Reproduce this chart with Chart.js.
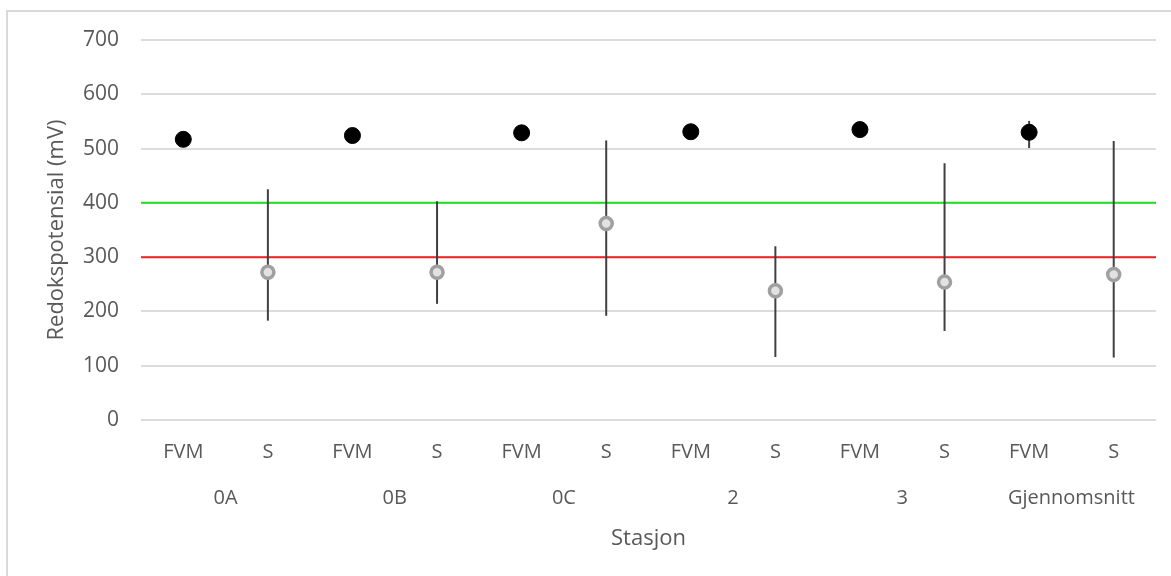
<!DOCTYPE html>
<html>
<head>
<meta charset="utf-8">
<script src="https://cdn.jsdelivr.net/npm/chart.js@4/dist/chart.umd.min.js"></script>
<style>
  html, body { margin: 0; padding: 0; background: #fff; overflow: hidden; }
  #frame { position: absolute; left: 6px; top: 10px; width: 1180px; height: 600px; border: 2px solid #d9d9d9; box-sizing: border-box; }
  #wrap { position: absolute; left: 0; top: 0; width: 1171px; height: 576px; }
</style>
</head>
<body>
<div id="frame"></div>
<div id="wrap"><canvas id="myChart"></canvas></div>
<script>
let categories = ['FVM', 'S', 'FVM', 'S', 'FVM', 'S', 'FVM', 'S', 'FVM', 'S', 'FVM', 'S'];
let stations = ['0A', '0B', '0C', '2', '3', 'Gjennomsnitt'];
let yTicks = [0, 100, 200, 300, 400, 500, 600, 700];

// FVM values per station (only the average has an error bar)
let fvm = [517, 524, 529, 531, 535, 530];
let fvmLow = [null, null, null, null, null, 501];
let fvmHigh = [null, null, null, null, null, 551];

// S values per station with min/max
let sVal = [272, 272, 362, 238, 254, 268];
let sLow = [183, 214, 192, 116, 164, 115];
let sHigh = [425, 403, 515, 320, 473, 514];

// limit lines
let greenLimit = 400;
let redLimit = 300;

let font = { family: 'Open Sans', size: 20 };
let titleFont = { family: 'Open Sans', size: 22 };
let textColor = '#595959';

// spread station values onto the FVM / S category slots
function toSlots(values, offset) {
    return categories.map(function(c, i) {
        return i % 2 === offset ? values[(i - offset) / 2] : null;
    });
}

let extras = {
    id: 'extras',
    beforeDatasetsDraw: function(chart) {
        let ctx = chart.ctx;
        let area = chart.chartArea;
        let y = chart.scales.y;

        // limit lines
        ctx.save();
        ctx.lineWidth = 2;
        ctx.strokeStyle = '#1ee01e';
        ctx.beginPath();
        ctx.moveTo(area.left, y.getPixelForValue(greenLimit));
        ctx.lineTo(area.right, y.getPixelForValue(greenLimit));
        ctx.stroke();
        ctx.strokeStyle = '#ee2222';
        ctx.beginPath();
        ctx.moveTo(area.left, y.getPixelForValue(redLimit));
        ctx.lineTo(area.right, y.getPixelForValue(redLimit));
        ctx.stroke();

        // error bars
        ctx.strokeStyle = '#404040';
        ctx.lineWidth = 2;
        let bars = [[0, fvmLow, fvmHigh], [1, sLow, sHigh]];
        bars.forEach(function(b) {
            let meta = chart.getDatasetMeta(b[0]);
            stations.forEach(function(st, i) {
                if (b[1][i] === null) return;
                let pt = meta.data[i * 2 + b[0]];
                ctx.beginPath();
                ctx.moveTo(pt.x, y.getPixelForValue(b[1][i]));
                ctx.lineTo(pt.x, y.getPixelForValue(b[2][i]));
                ctx.stroke();
            });
        });
        ctx.restore();
    }
};

let chart1 = new Chart(document.getElementById('myChart').getContext('2d'), {
    type: 'line',
    data: {
        labels: categories,
        datasets: [{
            label: 'FVM',
            data: toSlots(fvm, 0),
            showLine: false,
            pointRadius: 8,
            pointBackgroundColor: '#000',
            pointBorderColor: '#000',
            pointBorderWidth: 1
        }, {
            label: 'S',
            data: toSlots(sVal, 1),
            showLine: false,
            pointRadius: 6,
            pointBackgroundColor: '#e2e2e2',
            pointBorderColor: '#a0a0a0',
            pointBorderWidth: 3.5
        }]
    },
    options: {
        responsive: true,
        maintainAspectRatio: false,
        animation: false,
        layout: { padding: { left: 0, right: 15, top: 40, bottom: 0 } },
        plugins: { legend: { display: false }, tooltip: { enabled: false } },
        scales: {
            y: {
                min: 0,
                max: 700,
                afterBuildTicks: function(scale) {
                    scale.ticks = yTicks.map(function(v) { return { value: v }; });
                },
                afterFit: function(scale) { scale.width = 141; },
                grid: { color: '#dcdcdc', lineWidth: 2, drawTicks: false },
                border: { display: false },
                ticks: { color: textColor, font: { family: 'Open Sans', size: 21 }, padding: 22 },
                title: {
                    display: true,
                    text: 'Redokspotensial (mV)',
                    color: textColor,
                    font: titleFont,
                    padding: { top: 44, bottom: 0 }
                }
            },
            x: {
                weight: 0,
                offset: true,
                afterFit: function(scale) { scale.height = 46; },
                grid: { display: false, drawTicks: false },
                border: { display: false },
                ticks: { color: textColor, font: font, padding: 20, maxRotation: 0, autoSkip: false }
            },
            x2: {
                type: 'category',
                labels: stations,
                position: 'bottom',
                weight: 1,
                offset: true,
                afterFit: function(scale) { scale.height = 110; },
                grid: { display: false, drawTicks: false },
                border: { display: false },
                ticks: { color: textColor, font: font, padding: 20, maxRotation: 0, autoSkip: false },
                title: {
                    display: true,
                    text: 'Stasjon',
                    color: textColor,
                    font: titleFont,
                    padding: { top: 0, bottom: 24 }
                }
            }
        }
    },
    plugins: [extras]
});
</script>
</body>
</html>
